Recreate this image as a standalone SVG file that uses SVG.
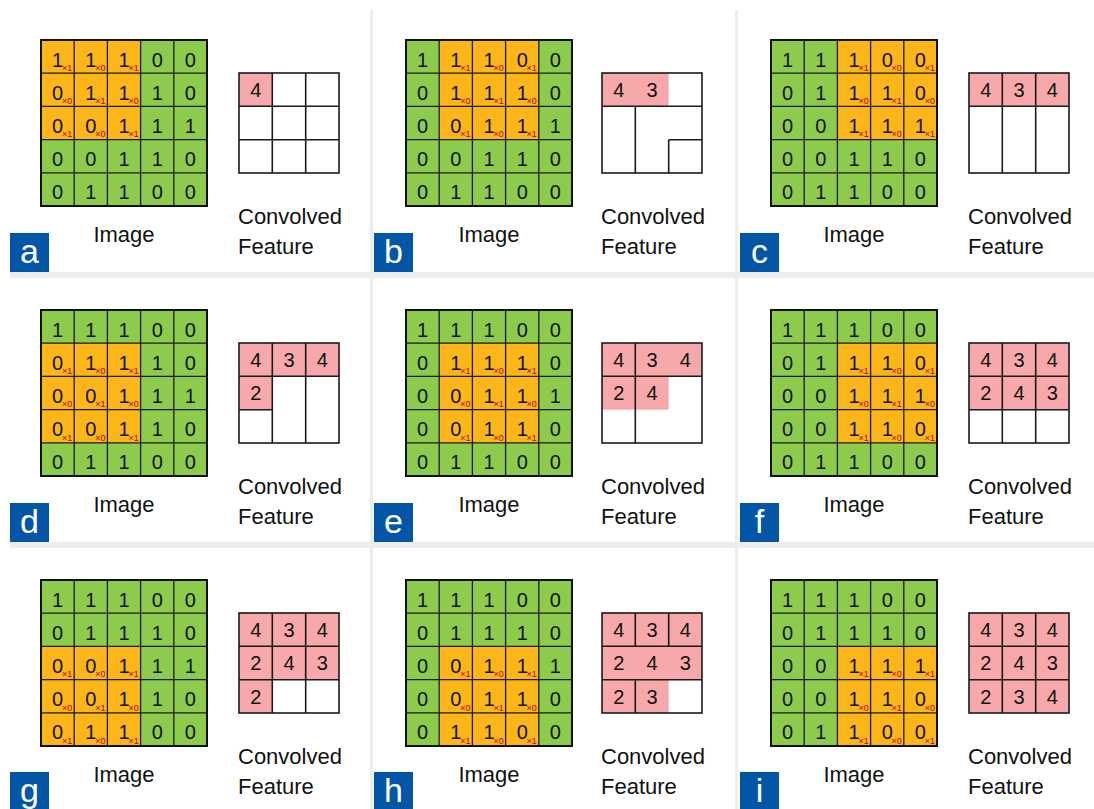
<svg xmlns="http://www.w3.org/2000/svg" xmlns:xlink="http://www.w3.org/1999/xlink" width="1094" height="809" viewBox="0 0 1094 809">
<style>
text{font-family:"Liberation Sans",Arial,sans-serif}
.gr{fill:#8DCB4D}
.or{fill:#FDB619}
.pk{fill:#F7A8AB}
.wh{fill:#FFFFFF}
.d{font-size:20px;text-anchor:middle;fill:#111}
.k{font-size:9px;fill:#C00000}
.ln{stroke:#1A1A1A;stroke-width:1.3;fill:none}
.bd{stroke:#111;stroke-width:2;fill:none}
.cl{stroke:#1A1A1A;stroke-width:1.6;fill:none}
.lbl{font-size:22px;fill:#111}
.lbc{font-size:22px;fill:#111;text-anchor:middle}
.lt{font-size:34px;fill:#FFFFFF;text-anchor:middle}
.lb{fill:#0256A5}
.sep{fill:#EDEDED}
</style>
<defs>
<g id="digits" class="d">
<text x="16.6" y="26.5">1</text><text x="49.8" y="26.5">1</text><text x="83" y="26.5">1</text><text x="116.2" y="26.5">0</text><text x="149.4" y="26.5">0</text>
<text x="16.6" y="59.7">0</text><text x="49.8" y="59.7">1</text><text x="83" y="59.7">1</text><text x="116.2" y="59.7">1</text><text x="149.4" y="59.7">0</text>
<text x="16.6" y="92.9">0</text><text x="49.8" y="92.9">0</text><text x="83" y="92.9">1</text><text x="116.2" y="92.9">1</text><text x="149.4" y="92.9">1</text>
<text x="16.6" y="126.1">0</text><text x="49.8" y="126.1">0</text><text x="83" y="126.1">1</text><text x="116.2" y="126.1">1</text><text x="149.4" y="126.1">0</text>
<text x="16.6" y="159.3">0</text><text x="49.8" y="159.3">1</text><text x="83" y="159.3">1</text><text x="116.2" y="159.3">0</text><text x="149.4" y="159.3">0</text>
</g>
<g id="kern" class="k">
<text x="21" y="31">×1</text><text x="54.2" y="31">×0</text><text x="87.4" y="31">×1</text>
<text x="21" y="64.2">×0</text><text x="54.2" y="64.2">×1</text><text x="87.4" y="64.2">×0</text>
<text x="21" y="97.4">×1</text><text x="54.2" y="97.4">×0</text><text x="87.4" y="97.4">×1</text>
</g>
<g id="ilines">
<path class="ln" d="M33.2 0V166M66.4 0V166M99.6 0V166M132.8 0V166M0 33.2H166M0 66.4H166M0 99.6H166M0 132.8H166"/>
<rect class="bd" x="0" y="0" width="166" height="166"/>
</g>
<g id="cvals" class="d">
<text x="16.7" y="24">4</text><text x="50" y="24">3</text><text x="83.3" y="24">4</text>
<text x="16.7" y="57.3">2</text><text x="50" y="57.3">4</text><text x="83.3" y="57.3">3</text>
<text x="16.7" y="90.7">2</text><text x="50" y="90.7">3</text><text x="83.3" y="90.7">4</text>
</g>
<path id="cfull" class="cl" d="M33.3 0V100M66.7 0V100M0 33.3H100M0 66.7H100"/>
</defs>

<g id="separators">
<rect class="sep" x="370" y="10" width="3" height="799"/>
<rect class="sep" x="735" y="10" width="3" height="799"/>
<rect class="sep" x="10" y="272" width="1084" height="6"/>
<rect class="sep" x="10" y="542" width="1084" height="6"/>
</g>

<!-- Panel a -->
<g id="panel-a">
<g id="image-a" transform="translate(41,40)">
<rect class="gr" width="166" height="166"/>
<rect class="or" x="0" y="0" width="99.6" height="99.6"/>
<use xlink:href="#digits"/>
<use xlink:href="#kern" x="0" y="0"/>
<use xlink:href="#ilines"/>
</g>
<g id="conv-a" transform="translate(239,73)">
<rect class="wh" width="100" height="100"/>
<rect class="pk" x="0" y="0" width="33.3" height="33.3"/>
<text class="d" x="16.7" y="24">4</text>
<use xlink:href="#cfull"/>
<rect class="cl" width="100" height="100"/>
</g>
<text class="lbc" x="124" y="242">Image</text>
<text class="lbl" x="238" y="224">Convolved</text>
<text class="lbl" x="238" y="254">Feature</text>
<rect class="lb" x="10" y="233" width="39" height="39"/>
<text class="lt" x="29.5" y="263">a</text>
</g>

<!-- Panel b -->
<g id="panel-b">
<g id="image-b" transform="translate(406,40)">
<rect class="gr" width="166" height="166"/>
<rect class="or" x="33.2" y="0" width="99.6" height="99.6"/>
<use xlink:href="#digits"/>
<use xlink:href="#kern" x="33.2" y="0"/>
<use xlink:href="#ilines"/>
</g>
<g id="conv-b" transform="translate(602,73)">
<rect class="wh" width="100" height="100"/>
<rect class="pk" x="0" y="0" width="66.7" height="33.3"/>
<text class="d" x="16.7" y="24">4</text><text class="d" x="50" y="24">3</text>
<path class="cl" d="M0 33.3H100M33.3 33.3V100M66.7 66.7H100M66.7 66.7V100"/>
<rect class="cl" width="100" height="100"/>
</g>
<text class="lbc" x="489" y="242">Image</text>
<text class="lbl" x="601" y="224">Convolved</text>
<text class="lbl" x="601" y="254">Feature</text>
<rect class="lb" x="374" y="233" width="39" height="39"/>
<text class="lt" x="393.5" y="263">b</text>
</g>

<!-- Panel c -->
<g id="panel-c">
<g id="image-c" transform="translate(771,40)">
<rect class="gr" width="166" height="166"/>
<rect class="or" x="66.4" y="0" width="99.6" height="99.6"/>
<use xlink:href="#digits"/>
<use xlink:href="#kern" x="66.4" y="0"/>
<use xlink:href="#ilines"/>
</g>
<g id="conv-c" transform="translate(969,73)">
<rect class="wh" width="100" height="100"/>
<rect class="pk" x="0" y="0" width="100" height="33.3"/>
<text class="d" x="16.7" y="24">4</text><text class="d" x="50" y="24">3</text><text class="d" x="83.3" y="24">4</text>
<path class="cl" d="M0 33.3H100M33.3 0V100M66.7 0V100"/>
<rect class="cl" width="100" height="100"/>
</g>
<text class="lbc" x="854" y="242">Image</text>
<text class="lbl" x="968" y="224">Convolved</text>
<text class="lbl" x="968" y="254">Feature</text>
<rect class="lb" x="740" y="233" width="39" height="39"/>
<text class="lt" x="759.5" y="263">c</text>
</g>

<!-- Panel d -->
<g id="panel-d">
<g id="image-d" transform="translate(41,310)">
<rect class="gr" width="166" height="166"/>
<rect class="or" x="0" y="33.2" width="99.6" height="99.6"/>
<use xlink:href="#digits"/>
<use xlink:href="#kern" x="0" y="33.2"/>
<use xlink:href="#ilines"/>
</g>
<g id="conv-d" transform="translate(239,343)">
<rect class="wh" width="100" height="100"/>
<rect class="pk" x="0" y="0" width="100" height="33.3"/>
<rect class="pk" x="0" y="33.3" width="33.3" height="33.4"/>
<text class="d" x="16.7" y="24">4</text><text class="d" x="50" y="24">3</text><text class="d" x="83.3" y="24">4</text>
<text class="d" x="16.7" y="57.3">2</text>
<path class="cl" d="M0 33.3H100M33.3 0V100M66.7 0V100M0 66.7H33.3"/>
<rect class="cl" width="100" height="100"/>
</g>
<text class="lbc" x="124" y="512">Image</text>
<text class="lbl" x="238" y="494">Convolved</text>
<text class="lbl" x="238" y="524">Feature</text>
<rect class="lb" x="10" y="503" width="39" height="39"/>
<text class="lt" x="29.5" y="533">d</text>
</g>

<!-- Panel e -->
<g id="panel-e">
<g id="image-e" transform="translate(406,310)">
<rect class="gr" width="166" height="166"/>
<rect class="or" x="33.2" y="33.2" width="99.6" height="99.6"/>
<use xlink:href="#digits"/>
<use xlink:href="#kern" x="33.2" y="33.2"/>
<use xlink:href="#ilines"/>
</g>
<g id="conv-e" transform="translate(602,343)">
<rect class="wh" width="100" height="100"/>
<rect class="pk" x="0" y="0" width="100" height="33.3"/>
<rect class="pk" x="0" y="33.3" width="66.7" height="33.4"/>
<text class="d" x="16.7" y="24">4</text><text class="d" x="50" y="24">3</text><text class="d" x="83.3" y="24">4</text>
<text class="d" x="16.7" y="57.3">2</text><text class="d" x="50" y="57.3">4</text>
<path class="cl" d="M0 33.3H100M33.3 0V100"/>
<rect class="cl" width="100" height="100"/>
</g>
<text class="lbc" x="489" y="512">Image</text>
<text class="lbl" x="601" y="494">Convolved</text>
<text class="lbl" x="601" y="524">Feature</text>
<rect class="lb" x="374" y="503" width="39" height="39"/>
<text class="lt" x="393.5" y="533">e</text>
</g>

<!-- Panel f -->
<g id="panel-f">
<g id="image-f" transform="translate(771,310)">
<rect class="gr" width="166" height="166"/>
<rect class="or" x="66.4" y="33.2" width="99.6" height="99.6"/>
<use xlink:href="#digits"/>
<use xlink:href="#kern" x="66.4" y="33.2"/>
<use xlink:href="#ilines"/>
</g>
<g id="conv-f" transform="translate(969,343)">
<rect class="wh" width="100" height="100"/>
<rect class="pk" x="0" y="0" width="100" height="66.7"/>
<text class="d" x="16.7" y="24">4</text><text class="d" x="50" y="24">3</text><text class="d" x="83.3" y="24">4</text>
<text class="d" x="16.7" y="57.3">2</text><text class="d" x="50" y="57.3">4</text><text class="d" x="83.3" y="57.3">3</text>
<use xlink:href="#cfull"/>
<rect class="cl" width="100" height="100"/>
</g>
<text class="lbc" x="854" y="512">Image</text>
<text class="lbl" x="968" y="494">Convolved</text>
<text class="lbl" x="968" y="524">Feature</text>
<rect class="lb" x="740" y="503" width="39" height="39"/>
<text class="lt" x="759.5" y="533">f</text>
</g>

<!-- Panel g -->
<g id="panel-g">
<g id="image-g" transform="translate(41,580)">
<rect class="gr" width="166" height="166"/>
<rect class="or" x="0" y="66.4" width="99.6" height="99.6"/>
<use xlink:href="#digits"/>
<use xlink:href="#kern" x="0" y="66.4"/>
<use xlink:href="#ilines"/>
</g>
<g id="conv-g" transform="translate(239,613)">
<rect class="wh" width="100" height="100"/>
<rect class="pk" x="0" y="0" width="100" height="66.7"/>
<rect class="pk" x="0" y="66.7" width="33.3" height="33.3"/>
<text class="d" x="16.7" y="24">4</text><text class="d" x="50" y="24">3</text><text class="d" x="83.3" y="24">4</text>
<text class="d" x="16.7" y="57.3">2</text><text class="d" x="50" y="57.3">4</text><text class="d" x="83.3" y="57.3">3</text>
<text class="d" x="16.7" y="90.7">2</text>
<use xlink:href="#cfull"/>
<rect class="cl" width="100" height="100"/>
</g>
<text class="lbc" x="124" y="782">Image</text>
<text class="lbl" x="238" y="764">Convolved</text>
<text class="lbl" x="238" y="794">Feature</text>
<rect class="lb" x="10" y="772" width="39" height="39"/>
<text class="lt" x="29.5" y="802">g</text>
</g>

<!-- Panel h -->
<g id="panel-h">
<g id="image-h" transform="translate(406,580)">
<rect class="gr" width="166" height="166"/>
<rect class="or" x="33.2" y="66.4" width="99.6" height="99.6"/>
<use xlink:href="#digits"/>
<use xlink:href="#kern" x="33.2" y="66.4"/>
<use xlink:href="#ilines"/>
</g>
<g id="conv-h" transform="translate(602,613)">
<rect class="wh" width="100" height="100"/>
<rect class="pk" x="0" y="0" width="100" height="66.7"/>
<rect class="pk" x="0" y="66.7" width="66.7" height="33.3"/>
<text class="d" x="16.7" y="24">4</text><text class="d" x="50" y="24">3</text><text class="d" x="83.3" y="24">4</text>
<text class="d" x="16.7" y="57.3">2</text><text class="d" x="50" y="57.3">4</text><text class="d" x="83.3" y="57.3">3</text>
<text class="d" x="16.7" y="90.7">2</text><text class="d" x="50" y="90.7">3</text>
<path class="cl" d="M0 33.3H100M0 66.7H100M33.3 0V33.3M66.7 0V33.3M33.3 66.7V100"/>
<rect class="cl" width="100" height="100"/>
</g>
<text class="lbc" x="489" y="782">Image</text>
<text class="lbl" x="601" y="764">Convolved</text>
<text class="lbl" x="601" y="794">Feature</text>
<rect class="lb" x="374" y="772" width="39" height="39"/>
<text class="lt" x="393.5" y="802">h</text>
</g>

<!-- Panel i -->
<g id="panel-i">
<g id="image-i" transform="translate(771,580)">
<rect class="gr" width="166" height="166"/>
<rect class="or" x="66.4" y="66.4" width="99.6" height="99.6"/>
<use xlink:href="#digits"/>
<use xlink:href="#kern" x="66.4" y="66.4"/>
<use xlink:href="#ilines"/>
</g>
<g id="conv-i" transform="translate(969,613)">
<rect class="pk" width="100" height="100"/>
<use xlink:href="#cvals"/>
<use xlink:href="#cfull"/>
<rect class="cl" width="100" height="100"/>
</g>
<text class="lbc" x="854" y="782">Image</text>
<text class="lbl" x="968" y="764">Convolved</text>
<text class="lbl" x="968" y="794">Feature</text>
<rect class="lb" x="740" y="772" width="39" height="39"/>
<text class="lt" x="759.5" y="802">i</text>
</g>
</svg>
